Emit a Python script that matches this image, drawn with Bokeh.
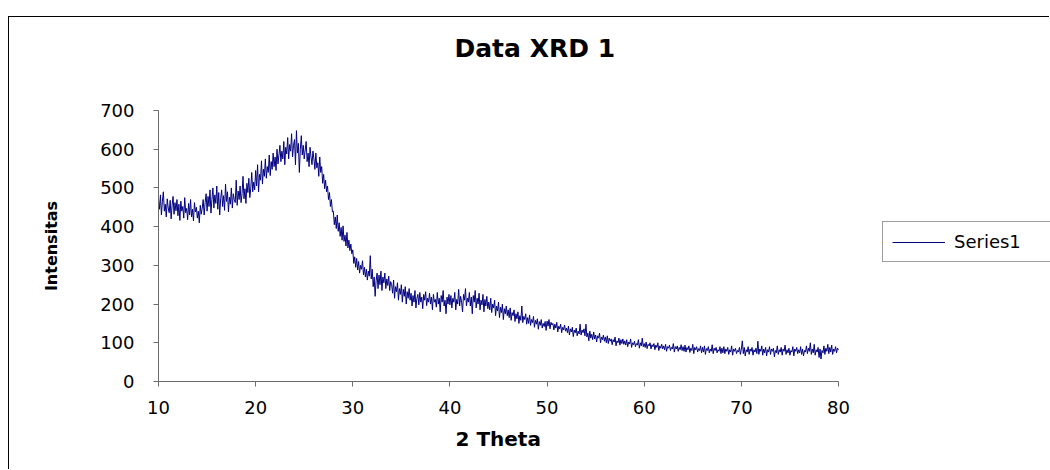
import numpy as np
from bokeh.plotting import figure
from bokeh.models import Range1d, FixedTicker, Legend, LegendItem, LinearAxis, Title
from bokeh.embed import file_html
from bokeh.resources import INLINE

# ---- data ----
THETA_START = 10.0
THETA_STEP = 0.1
intensity = [
    470, 445, 482, 430, 465, 490, 440, 458, 425, 472, 448, 436, 468, 420, 455, 478, 432, 462, 441, 470,
    428, 458, 416, 466, 440, 452, 422, 475, 436, 447, 418, 460, 430, 470, 425, 445, 415, 462, 438, 450,
    422, 440, 410, 455, 432, 448, 470, 430, 462, 485, 440, 478, 452, 495, 435, 470, 500, 448, 482, 460,
    505, 445, 488, 430, 472, 495, 452, 480, 442, 510, 465, 490, 438, 476, 458, 500, 448, 485, 470, 462,
    520, 455, 492, 470, 505, 462, 485, 530, 472, 498, 460, 512, 488, 525, 475, 500, 540, 490, 515, 495,
    545, 505, 560, 490, 535, 520, 570, 510, 548, 530, 575, 525, 555, 540, 585, 532, 568, 548, 590, 555,
    580, 545, 600, 562, 585, 610, 568, 595, 575, 620, 560, 605, 588, 630, 575, 612, 595, 640, 580, 610,
    625, 560, 648, 590, 615, 540, 600, 635, 585, 610, 575, 598, 620, 568, 590, 555, 605, 580, 560, 595,
    575, 548, 590, 552, 565, 530, 580, 540, 555, 512, 535, 498, 520, 490, 505, 470, 488, 452, 470, 438,
    440, 405, 425, 395, 430, 388, 410, 375, 398, 365, 402, 362, 378, 350, 385, 345, 365, 338, 355, 330,
    340, 305, 322, 295, 318, 288, 310, 280, 300, 290, 312, 275, 295, 270, 290, 262, 285, 272, 325, 265,
    290, 245, 270, 220, 260, 280, 240, 275, 250, 285, 235, 270, 255, 280, 240, 265, 248, 272, 235, 258,
    250, 228, 262, 215, 245, 232, 255, 210, 240, 225, 250, 205, 238, 220, 245, 200, 232, 215, 240, 210,
    228, 195, 222, 205, 235, 190, 215, 225, 198, 230, 205, 218, 188, 225, 210, 232, 196, 215, 205, 228,
    200, 218, 185, 225, 205, 212, 192, 230, 200, 215, 180, 222, 205, 235, 195, 210, 175, 218, 200, 225,
    198, 222, 190, 215, 205, 230, 185, 212, 200, 238, 195, 220, 205, 180, 225, 210, 240, 195, 215, 205,
    230, 195, 218, 175, 222, 205, 235, 190, 215, 200, 228, 185, 210, 198, 225, 180, 212, 195, 220, 188,
    205, 185, 215, 178, 200, 190, 210, 170, 195, 182, 205, 165, 192, 178, 200, 160, 188, 175, 195, 170,
    185, 165, 190, 158, 178, 170, 185, 155, 175, 162, 180, 150, 170, 158, 195, 152, 168, 160, 175, 148,
    165, 150, 172, 145, 160, 152, 168, 140, 158, 148, 162, 135, 155, 145, 160, 138, 150, 142, 155, 132,
    156, 143, 160, 136, 153, 146, 150, 133, 148, 138, 153, 128, 143, 136, 148, 126, 140, 133, 146, 130,
    138, 126, 143, 120, 136, 128, 140, 116, 133, 126, 138, 118, 130, 123, 148, 120, 133, 126, 136, 118,
    148, 115, 125, 105, 130, 112, 122, 108, 128, 110, 120, 102, 118, 112, 125, 100, 115, 108, 120, 104,
    115, 100, 118, 98, 112, 104, 110, 95, 108, 102, 115, 92, 105, 100, 112, 94, 108, 98, 110, 96,
    105, 94, 108, 90, 102, 97, 110, 88, 100, 95, 104, 90, 98, 94, 108, 86, 100, 92, 112, 90,
    98, 88, 102, 85, 96, 92, 100, 84, 95, 90, 98, 82, 94, 88, 100, 80, 92, 86, 96, 84,
    92, 82, 96, 78, 90, 86, 94, 80, 88, 84, 98, 76, 90, 84, 92, 78, 88, 82, 95, 80,
    90, 78, 94, 76, 88, 82, 92, 75, 86, 80, 96, 72, 88, 82, 90, 76, 85, 80, 92, 74,
    88, 76, 92, 70, 85, 80, 90, 74, 84, 78, 95, 72, 86, 80, 88, 74, 82, 78, 90, 72,
    86, 74, 90, 72, 84, 78, 88, 70, 82, 76, 92, 68, 84, 78, 86, 72, 80, 76, 88, 70,
    84, 105, 72, 88, 66, 82, 76, 90, 70, 84, 78, 88, 68, 82, 76, 86, 72, 104, 70, 84,
    78, 92, 68, 84, 74, 88, 66, 82, 76, 90, 70, 84, 78, 86, 64, 80, 74, 92, 70, 82,
    76, 88, 68, 84, 78, 94, 70, 82, 74, 86, 68, 80, 76, 90, 66, 84, 78, 88, 72, 82,
    74, 90, 70, 84, 66, 80, 76, 92, 72, 86, 78, 100, 70, 84, 74, 96, 68, 82, 76, 88,
    62, 84, 58, 80, 74, 92, 70, 86, 78, 96, 72, 88, 76, 94, 70, 84, 78, 90, 74, 86,
    82,
]
assert len(intensity) == 701, len(intensity)
two_theta = np.round(THETA_START + THETA_STEP * np.arange(len(intensity)), 2)

x_ticks = [10, 20, 30, 40, 50, 60, 70, 80]
y_ticks = [0, 100, 200, 300, 400, 500, 600, 700]
x_axis_span = (10, 80)
y_axis_span = (0, 700)
title_text = "Data XRD 1"
x_label = "2 Theta"
y_label = "Intensitas"
series_name = "Series1"

FONT = "DejaVu Sans"
AXIS_COLOR = "#6b6b6b"

# geometry (pixels inside the figure)
W, H = 1041, 453
BORDER_L, BORDER_T, BORDER_B = 149, 93, 89
AXIS_PX = 680  # pixel length of the 10..80 axis
frame_w = W - BORDER_L
x_end = x_axis_span[0] + (x_axis_span[1] - x_axis_span[0]) * frame_w / AXIS_PX

p = figure(width=W, height=H, output_backend="svg", toolbar_location=None,
           x_range=Range1d(x_axis_span[0], x_end), y_range=Range1d(*y_axis_span),
           min_border_left=BORDER_L, min_border_right=0,
           min_border_top=BORDER_T, min_border_bottom=BORDER_B,
           title=None,
           background_fill_color="white", border_fill_color="white")
p.styles = {"margin-left": "8px", "margin-top": "16px",
            "border-left": "1px solid black", "border-top": "1px solid black"}

p.outline_line_color = None
p.xgrid.visible = False
p.ygrid.visible = False

xa = p.below[0]
ya = p.left[0]

r = p.line(two_theta, intensity, line_color="#000080", line_width=1)

for ax, ticks, span in ((xa, x_ticks, x_axis_span), (ya, y_ticks, y_axis_span)):
    ax.ticker = FixedTicker(ticks=ticks)
    ax.bounds = span
    ax.axis_line_color = AXIS_COLOR
    ax.major_tick_line_color = AXIS_COLOR
    ax.major_tick_in = 0
    ax.major_tick_out = 5
    ax.minor_tick_in = 0
    ax.minor_tick_out = 0
    ax.major_label_text_font = FONT
    ax.major_label_text_font_size = "18px"
    ax.major_label_text_color = "black"
    ax.axis_label_text_font = FONT
    ax.axis_label_text_font_style = "bold"
    ax.axis_label_text_color = "black"

xa.major_label_standoff = 14

ya.axis_label = y_label
ya.axis_label_text_font_size = "16px"
ya.major_label_standoff = 19
ya.axis_label_standoff = 36

# x-axis title, placed under the 10..80 axis (the frame reaches further right for the legend)
p.add_layout(Title(text=x_label, text_font=FONT, text_font_size="20px",
                   text_font_style="bold", text_color="black",
                   align="left", offset=297, standoff=20,
                   vertical_align="top"), "below")

# invisible spacer between frame and chart title
spacer = LinearAxis(ticker=FixedTicker(ticks=[10], minor_ticks=[]),
                    major_label_overrides={10: ""},
                    axis_line_color=None, major_tick_line_color=None,
                    minor_tick_line_color=None, major_label_standoff=0,
                    major_tick_in=0, major_tick_out=48, minor_tick_in=0, minor_tick_out=0)
p.add_layout(spacer, "above")
p.add_layout(Title(text=title_text, text_font=FONT, text_font_size="25px",
                   text_font_style="bold", text_color="black",
                   align="left", offset=296, standoff=0,
                   vertical_align="bottom"), "above")

legend = Legend(items=[LegendItem(label=series_name, renderers=[r])],
                location=(724, 119), orientation="vertical",
                border_line_color="#3a3a3a", border_line_width=1,
                background_fill_color="white", background_fill_alpha=1.0,
                padding=9, spacing=0, margin=0,
                glyph_width=53, glyph_height=16, label_height=16,
                label_standoff=9, label_width=130,
                label_text_font=FONT, label_text_font_size="18px",
                label_text_color="black")
p.add_layout(legend)

open("out.html", "w").write(file_html(p, INLINE))
